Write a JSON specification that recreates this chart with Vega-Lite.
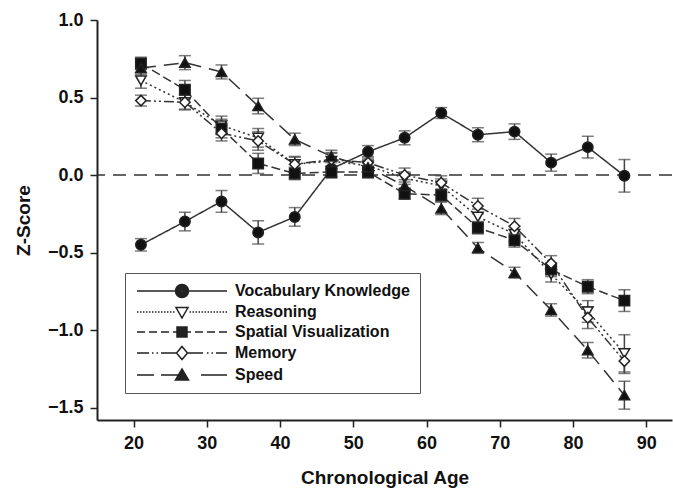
{
  "$schema": "https://vega.github.io/schema/vega-lite/v6.json",
  "width": 575,
  "height": 400,
  "autosize": "none",
  "padding": {"left": 97, "top": 20, "right": 1, "bottom": 78},
  "background": "white",
  "config": {
    "view": {"stroke": null},
    "font": "Liberation Sans",
    "axis": {
      "grid": false,
      "domainColor": "#222",
      "domainWidth": 2,
      "tickColor": "#222",
      "tickWidth": 1.5,
      "tickSize": 7,
      "labelFont": "Liberation Sans",
      "labelFontSize": 18,
      "labelFontWeight": "bold",
      "labelColor": "#111",
      "titleFont": "Liberation Sans",
      "titleFontSize": 19,
      "titleFontWeight": "bold",
      "titleColor": "#111"
    }
  },
  "data": {
    "values": [
      {"age": 21, "ability": "Vocabulary Knowledge", "z": -0.45, "lo": -0.49, "hi": -0.41},
      {"age": 27, "ability": "Vocabulary Knowledge", "z": -0.30, "lo": -0.36, "hi": -0.24},
      {"age": 32, "ability": "Vocabulary Knowledge", "z": -0.17, "lo": -0.24, "hi": -0.10},
      {"age": 37, "ability": "Vocabulary Knowledge", "z": -0.37, "lo": -0.445, "hi": -0.295},
      {"age": 42, "ability": "Vocabulary Knowledge", "z": -0.27, "lo": -0.33, "hi": -0.21},
      {"age": 47, "ability": "Vocabulary Knowledge", "z": 0.04, "lo": -0.01, "hi": 0.09},
      {"age": 52, "ability": "Vocabulary Knowledge", "z": 0.15, "lo": 0.11, "hi": 0.19},
      {"age": 57, "ability": "Vocabulary Knowledge", "z": 0.24, "lo": 0.195, "hi": 0.285},
      {"age": 62, "ability": "Vocabulary Knowledge", "z": 0.40, "lo": 0.365, "hi": 0.435},
      {"age": 67, "ability": "Vocabulary Knowledge", "z": 0.26, "lo": 0.215, "hi": 0.305},
      {"age": 72, "ability": "Vocabulary Knowledge", "z": 0.28, "lo": 0.23, "hi": 0.33},
      {"age": 77, "ability": "Vocabulary Knowledge", "z": 0.08, "lo": 0.025, "hi": 0.135},
      {"age": 82, "ability": "Vocabulary Knowledge", "z": 0.18, "lo": 0.11, "hi": 0.25},
      {"age": 87, "ability": "Vocabulary Knowledge", "z": -0.005, "lo": -0.11, "hi": 0.10},
      {"age": 21, "ability": "Reasoning", "z": 0.61, "lo": 0.56, "hi": 0.66},
      {"age": 27, "ability": "Reasoning", "z": 0.47, "lo": 0.42, "hi": 0.52},
      {"age": 32, "ability": "Reasoning", "z": 0.32, "lo": 0.26, "hi": 0.38},
      {"age": 37, "ability": "Reasoning", "z": 0.24, "lo": 0.18, "hi": 0.30},
      {"age": 42, "ability": "Reasoning", "z": 0.07, "lo": 0.02, "hi": 0.12},
      {"age": 47, "ability": "Reasoning", "z": 0.09, "lo": 0.04, "hi": 0.14},
      {"age": 52, "ability": "Reasoning", "z": 0.06, "lo": 0.02, "hi": 0.10},
      {"age": 57, "ability": "Reasoning", "z": -0.02, "lo": -0.06, "hi": 0.02},
      {"age": 62, "ability": "Reasoning", "z": -0.07, "lo": -0.115, "hi": -0.025},
      {"age": 67, "ability": "Reasoning", "z": -0.27, "lo": -0.32, "hi": -0.22},
      {"age": 72, "ability": "Reasoning", "z": -0.38, "lo": -0.43, "hi": -0.33},
      {"age": 77, "ability": "Reasoning", "z": -0.64, "lo": -0.69, "hi": -0.59},
      {"age": 82, "ability": "Reasoning", "z": -0.88, "lo": -0.95, "hi": -0.81},
      {"age": 87, "ability": "Reasoning", "z": -1.15, "lo": -1.27, "hi": -1.03},
      {"age": 21, "ability": "Spatial Visualization", "z": 0.72, "lo": 0.68, "hi": 0.76},
      {"age": 27, "ability": "Spatial Visualization", "z": 0.55, "lo": 0.49, "hi": 0.61},
      {"age": 32, "ability": "Spatial Visualization", "z": 0.30, "lo": 0.24, "hi": 0.36},
      {"age": 37, "ability": "Spatial Visualization", "z": 0.075, "lo": 0.01, "hi": 0.14},
      {"age": 42, "ability": "Spatial Visualization", "z": 0.01, "lo": -0.03, "hi": 0.05},
      {"age": 47, "ability": "Spatial Visualization", "z": 0.02, "lo": -0.02, "hi": 0.06},
      {"age": 52, "ability": "Spatial Visualization", "z": 0.02, "lo": -0.02, "hi": 0.06},
      {"age": 57, "ability": "Spatial Visualization", "z": -0.12, "lo": -0.155, "hi": -0.085},
      {"age": 62, "ability": "Spatial Visualization", "z": -0.13, "lo": -0.17, "hi": -0.09},
      {"age": 67, "ability": "Spatial Visualization", "z": -0.34, "lo": -0.38, "hi": -0.30},
      {"age": 72, "ability": "Spatial Visualization", "z": -0.42, "lo": -0.465, "hi": -0.375},
      {"age": 77, "ability": "Spatial Visualization", "z": -0.61, "lo": -0.655, "hi": -0.565},
      {"age": 82, "ability": "Spatial Visualization", "z": -0.72, "lo": -0.765, "hi": -0.675},
      {"age": 87, "ability": "Spatial Visualization", "z": -0.81, "lo": -0.88, "hi": -0.74},
      {"age": 21, "ability": "Memory", "z": 0.48, "lo": 0.445, "hi": 0.515},
      {"age": 27, "ability": "Memory", "z": 0.47, "lo": 0.425, "hi": 0.515},
      {"age": 32, "ability": "Memory", "z": 0.27, "lo": 0.22, "hi": 0.32},
      {"age": 37, "ability": "Memory", "z": 0.22, "lo": 0.16, "hi": 0.28},
      {"age": 42, "ability": "Memory", "z": 0.07, "lo": 0.025, "hi": 0.115},
      {"age": 47, "ability": "Memory", "z": 0.10, "lo": 0.055, "hi": 0.145},
      {"age": 52, "ability": "Memory", "z": 0.08, "lo": 0.04, "hi": 0.12},
      {"age": 57, "ability": "Memory", "z": 0.0, "lo": -0.045, "hi": 0.045},
      {"age": 62, "ability": "Memory", "z": -0.05, "lo": -0.095, "hi": -0.005},
      {"age": 67, "ability": "Memory", "z": -0.20, "lo": -0.25, "hi": -0.15},
      {"age": 72, "ability": "Memory", "z": -0.33, "lo": -0.38, "hi": -0.28},
      {"age": 77, "ability": "Memory", "z": -0.57, "lo": -0.62, "hi": -0.52},
      {"age": 82, "ability": "Memory", "z": -0.92, "lo": -0.99, "hi": -0.85},
      {"age": 87, "ability": "Memory", "z": -1.20, "lo": -1.28, "hi": -1.12},
      {"age": 21, "ability": "Speed", "z": 0.69, "lo": 0.65, "hi": 0.73},
      {"age": 27, "ability": "Speed", "z": 0.725, "lo": 0.68, "hi": 0.77},
      {"age": 32, "ability": "Speed", "z": 0.665, "lo": 0.62, "hi": 0.71},
      {"age": 37, "ability": "Speed", "z": 0.445, "lo": 0.395, "hi": 0.495},
      {"age": 42, "ability": "Speed", "z": 0.23, "lo": 0.19, "hi": 0.27},
      {"age": 47, "ability": "Speed", "z": 0.12, "lo": 0.08, "hi": 0.16},
      {"age": 52, "ability": "Speed", "z": 0.05, "lo": 0.01, "hi": 0.09},
      {"age": 57, "ability": "Speed", "z": -0.07, "lo": -0.11, "hi": -0.03},
      {"age": 62, "ability": "Speed", "z": -0.215, "lo": -0.255, "hi": -0.175},
      {"age": 67, "ability": "Speed", "z": -0.47, "lo": -0.505, "hi": -0.435},
      {"age": 72, "ability": "Speed", "z": -0.63, "lo": -0.665, "hi": -0.595},
      {"age": 77, "ability": "Speed", "z": -0.87, "lo": -0.91, "hi": -0.83},
      {"age": 82, "ability": "Speed", "z": -1.13, "lo": -1.18, "hi": -1.08},
      {"age": 87, "ability": "Speed", "z": -1.42, "lo": -1.51, "hi": -1.33}
    ]
  },
  "encoding": {
    "x": {
      "field": "age",
      "type": "quantitative",
      "scale": {"domain": [15, 93.5], "nice": false, "zero": false},
      "axis": {"title": "Chronological Age", "values": [20, 30, 40, 50, 60, 70, 80, 90], "labelPadding": 7, "titlePadding": 16}
    }
  },
  "layer": [
    {
      "data": {"values": [{"ref": 0}]},
      "mark": {"type": "rule", "color": "#333", "strokeWidth": 1.5, "strokeDash": [13, 8]},
      "encoding": {"x": null, "y": {"field": "ref", "type": "quantitative", "title": "Z-Score"}}
    },
    {
      "mark": {"type": "line", "color": "#333", "strokeWidth": 1.5},
      "encoding": {
        "y": {
          "field": "z",
          "type": "quantitative",
          "title": "Z-Score",
          "scale": {"domain": [-1.58, 1.0], "nice": false, "zero": false},
          "axis": {"title": "Z-Score", "values": [-1.5, -1, -0.5, 0, 0.5, 1], "format": ".1f", "labelPadding": 7, "titlePadding": 14}
        },
        "detail": {"field": "ability"},
        "strokeDash": {
          "field": "ability",
          "type": "nominal",
          "scale": {
            "domain": ["Vocabulary Knowledge", "Reasoning", "Spatial Visualization", "Memory", "Speed"],
            "range": [[1, 0], [2, 3], [9, 4], [10, 3, 2, 3, 2, 3], [15, 8]]
          },
          "legend": null
        }
      }
    },
    {
      "mark": {"type": "errorbar", "color": "#444", "thickness": 1.5, "ticks": {"size": 12, "thickness": 1.5, "color": "#444"}},
      "encoding": {
        "y": {"field": "lo", "type": "quantitative", "title": "Z-Score"},
        "y2": {"field": "hi"},
        "detail": {"field": "ability"}
      }
    },
    {
      "mark": {"type": "point", "filled": true, "opacity": 1, "stroke": "#222", "strokeWidth": 1.5, "size": 110},
      "encoding": {
        "y": {"field": "z", "type": "quantitative", "title": "Z-Score"},
        "shape": {
          "field": "ability",
          "type": "nominal",
          "scale": {
            "domain": ["Vocabulary Knowledge", "Reasoning", "Spatial Visualization", "Memory", "Speed"],
            "range": ["circle", "triangle-down", "square", "diamond", "triangle-up"]
          },
          "legend": null
        },
        "fill": {
          "field": "ability",
          "type": "nominal",
          "scale": {
            "domain": ["Vocabulary Knowledge", "Reasoning", "Spatial Visualization", "Memory", "Speed"],
            "range": ["#111", "white", "#111", "white", "#111"]
          },
          "legend": null
        }
      }
    },
    {
      "transform": [{"filter": "false"}],
      "mark": {"type": "point", "filled": false, "color": "#222", "opacity": 1, "strokeWidth": 1.5, "size": 100},
      "encoding": {
        "y": {"field": "z", "type": "quantitative", "title": "Z-Score"},
        "shape": {
          "field": "ability",
          "type": "nominal",
          "scale": {
            "domain": ["Vocabulary Knowledge", "Reasoning", "Spatial Visualization", "Memory", "Speed"],
            "range": [
              "M-9,0H-1.3M1.3,0H9M1.3,0A1.3,1.3,0,1,1,-1.3,0A1.3,1.3,0,1,1,1.3,0ZM1.05,0A1.05,1.05,0,1,1,-1.05,0A1.05,1.05,0,1,1,1.05,0ZM0.8,0A0.8,0.8,0,1,1,-0.8,0A0.8,0.8,0,1,1,0.8,0ZM0.55,0A0.55,0.55,0,1,1,-0.55,0A0.55,0.55,0,1,1,0.55,0ZM0.3,0A0.3,0.3,0,1,1,-0.3,0A0.3,0.3,0,1,1,0.3,0ZM0.08,0A0.08,0.08,0,1,1,-0.08,0A0.08,0.08,0,1,1,0.08,0Z",
              "M-9,0h0.3M-8.4,0h0.3M-7.8,0h0.3M-7.2,0h0.3M-6.6,0h0.3M-6,0h0.3M-5.4,0h0.3M-4.8,0h0.3M-4.2,0h0.3M-3.6,0h0.3M-3,0h0.3M-2.4,0h0.3M-1.8,0h0.3M1.5,0h0.3M2.1,0h0.3M2.7,0h0.3M3.3,0h0.3M3.9,0h0.3M4.5,0h0.3M5.1,0h0.3M5.7,0h0.3M6.3,0h0.3M6.9,0h0.3M7.5,0h0.3M8.1,0h0.3M8.7,0h0.3M-1.2,-0.9L1.2,-0.9L0,1.2Z",
              "M-9,0h1.6M-6.6,0h1.6M-4.2,0h1.6M-1.8,0h3.6M2.6,0h1.6M5,0h1.6M7.4,0h1.6M-1,-1h2v2h-2ZM-0.75,-0.75h1.5v1.5h-1.5ZM-0.5,-0.5h1v1h-1ZM-0.25,-0.25h0.5v0.5h-0.5Z",
              "M-9,0h2.4M-6,0h0.3M-5.1,0h0.3M-4.2,0h3.1M1.1,0h3.1M5,0h0.3M5.9,0h0.3M6.8,0h2.2M0,-1.3L1.1,0L0,1.3L-1.1,0Z",
              "M-9,0h3.4M-4.2,0h4.2M3.8,0h5.2M0,-1.2L1.3,1L-1.3,1ZM0,-0.907L1.04,0.853L-1.04,0.853ZM0,-0.613L0.78,0.707L-0.78,0.707ZM0,-0.32L0.52,0.56L-0.52,0.56ZM0,-0.027L0.26,0.413L-0.26,0.413Z"
            ]
          },
          "legend": {
            "title": null,
            "orient": "none",
            "legendX": 28,
            "legendY": 253,
            "direction": "vertical",
            "strokeColor": "#555",
            "fillColor": "white",
            "padding": 10,
            "rowPadding": 3,
            "symbolSize": 100,
            "symbolStrokeWidth": 1.5,
            "symbolOffset": 39,
            "labelOffset": 45,
            "labelFont": "Liberation Sans",
            "labelFontSize": 16,
            "labelFontWeight": "bold",
            "labelColor": "#111",
            "labelLimit": 400,
            "encode": {
              "symbols": {
                "stroke": {"value": "#222"},
                "strokeWidth": {"value": 1.5},
                "fill": {"value": "transparent"},
                "opacity": {"value": 1}
              }
            }
          }
        }
      }
    }
  ],
  "resolve": {"scale": {"shape": "independent", "fill": "independent"}}
}
